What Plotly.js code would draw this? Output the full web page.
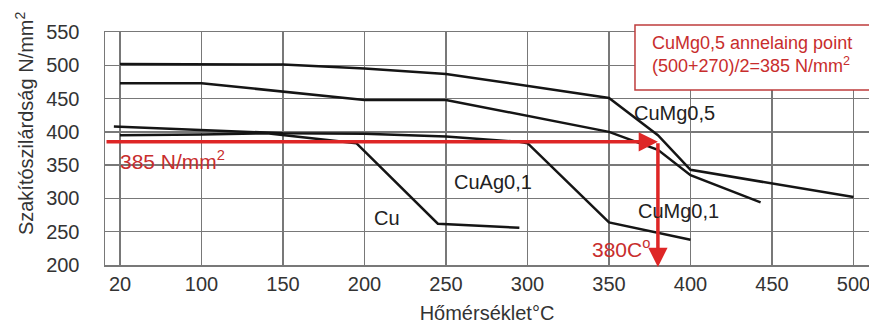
<!DOCTYPE html>
<html>
<head>
<meta charset="utf-8">
<script src="https://cdn.plot.ly/plotly-3.0.1.min.js"></script>
<style>
  html, body { margin: 0; padding: 0; background: #fff; }
  #chart { width: 869px; height: 324px; }
</style>
</head>
<body>
<div id="chart"></div>
<script>
// ---- Data (temperature °C, tensile strength N/mm²) ----
const tempTicks = [20, 100, 150, 200, 250, 300, 350, 400, 450, 500];
const strengthTicks = [200, 250, 300, 350, 400, 450, 500, 550];

const cuMg05Temp = [20, 100, 150, 200, 250, 350, 380, 400, 500];
const cuMg05Str  = [502, 502, 501, 495, 487, 451, 395, 343, 302];

const cuMg05bTemp = [20, 100, 200, 250, 350, 380, 400, 443];
const cuMg05bStr  = [473, 473, 448, 448, 400, 373, 335, 294];

const cuMg01Temp = [14, 100, 150, 200, 250, 295, 300, 350, 400];
const cuMg01Str  = [408, 403, 398, 397, 393, 385, 383, 264, 238];

const cuTemp = [20, 100, 140, 195, 245, 295];
const cuStr  = [395, 396, 398, 383, 262, 256];

const annealStrength = 385;   // (500+270)/2
const annealTemp = 380;

// The original temperature axis is broken: 20→100 spans the same width as 100→150.
function tPos(t) { return t <= 100 ? (t - 20) / 80 : 1 + (t - 100) / 50; }

const xLeft = -0.184, xRight = 9.19;
const FONT = '"Liberation Sans", Arial, sans-serif';
const RED = 'rgb(222,38,38)';
const RED_TXT = 'rgb(200,45,45)';
const GRID = '#787878';

function curve(T, S, name) {
  return {
    type: 'scatter', mode: 'lines', name: name,
    x: T.map(tPos), y: S,
    line: { color: '#151515', width: 2.5 },
    hoverinfo: 'skip'
  };
}

const traces = [
  curve(cuMg05Temp, cuMg05Str, 'CuMg0,5'),
  curve(cuMg05bTemp, cuMg05bStr, 'CuMg0,5 b'),
  curve(cuMg01Temp, cuMg01Str, 'CuMg0,1'),
  curve(cuTemp, cuStr, 'Cu')
];

const layout = {
  width: 869, height: 324,
  margin: { l: 105, r: 0, t: 32, b: 59 },
  paper_bgcolor: '#fff', plot_bgcolor: '#fff',
  showlegend: false,
  font: { family: FONT, size: 20, color: '#333' },
  xaxis: {
    range: [xLeft, xRight],
    tickmode: 'array',
    tickvals: tempTicks.map(tPos),
    ticktext: tempTicks.map(String),
    showgrid: true, gridcolor: GRID, gridwidth: 1.5,
    zeroline: false,
    showline: true, linecolor: GRID, linewidth: 1.5, mirror: true,
    ticks: '', ticklabelstandoff: 0, ticklabeloverflow: 'allow',
    tickfont: { family: FONT, size: 20, color: '#333' },
    title: { text: 'Hőmérséklet°C', font: { family: FONT, size: 20, color: '#333' }, standoff: 16 }
  },
  yaxis: {
    range: [200, 550],
    tickmode: 'array',
    tickvals: strengthTicks,
    ticktext: strengthTicks.map(String),
    showgrid: true, gridcolor: GRID, gridwidth: 1.5,
    zeroline: false,
    showline: true, linecolor: GRID, linewidth: 1.5,
    ticks: '', ticklabelstandoff: 20, ticklabeloverflow: 'allow',
    tickfont: { family: FONT, size: 20, color: '#333' }
  },
  shapes: [
    { type: 'rect', xref: 'paper', yref: 'paper',
      x0: 0.6937, x1: 1.03, y0: 0.751, y1: 1.03,
      fillcolor: '#fff', line: { color: 'rgb(190,60,60)', width: 1.5 }, layer: 'above' }
  ],
  annotations: [
    { xref: 'paper', yref: 'paper', x: -0.106, y: 0.609, xanchor: 'center', yanchor: 'middle',
      textangle: -90, showarrow: false,
      text: 'Szakítószilárdság N/mm<sup>2</sup>',
      font: { family: FONT, size: 20, color: '#333' } },
    { xref: 'paper', yref: 'paper', x: 0.714, y: 0.9034, xanchor: 'left', yanchor: 'middle',
      align: 'left', showarrow: false,
      text: 'CuMg0,5 annelaing point<br>(500+270)/2=385 N/mm<sup>2</sup>',
      font: { family: FONT, size: 18, color: RED_TXT } },
    // red arrows
    { xref: 'x', yref: 'y', axref: 'x', ayref: 'y',
      x: tPos(annealTemp), y: annealStrength, ax: xLeft, ay: annealStrength,
      text: '', showarrow: true, arrowhead: 2, arrowsize: 1.1, arrowwidth: 3.5,
      arrowcolor: RED, standoff: 0, startstandoff: 0 },
    { xref: 'x', yref: 'y', axref: 'x', ayref: 'y',
      x: tPos(annealTemp), y: 197, ax: tPos(annealTemp), ay: annealStrength,
      text: '', showarrow: true, arrowhead: 2, arrowsize: 1.1, arrowwidth: 3.5,
      arrowcolor: RED, standoff: 0, startstandoff: 0 },
    { xref: 'x', yref: 'y', x: -0.025, y: 358, xanchor: 'left', yanchor: 'middle', showarrow: false,
      text: annealStrength + ' N/mm<sup>2</sup>', font: { family: FONT, size: 21, color: RED_TXT } },
    { xref: 'x', yref: 'y', x: 6.147, y: 226, xanchor: 'center', yanchor: 'middle', showarrow: false,
      text: annealTemp + 'C<sup>o</sup>', font: { family: FONT, size: 21, color: RED_TXT } },
    // curve labels
    { xref: 'x', yref: 'y', x: 6.80, y: 428, showarrow: false, text: 'CuMg0,5',
      font: { family: FONT, size: 20, color: '#222' } },
    { xref: 'x', yref: 'y', x: 4.577, y: 325, showarrow: false, text: 'CuAg0,1',
      font: { family: FONT, size: 20, color: '#222' } },
    { xref: 'x', yref: 'y', x: 3.276, y: 271, showarrow: false, text: 'Cu',
      font: { family: FONT, size: 20, color: '#222' } },
    { xref: 'x', yref: 'y', x: 6.847, y: 281, showarrow: false, text: 'CuMg0,1',
      font: { family: FONT, size: 20, color: '#222' } }
  ]
};

Plotly.newPlot('chart', traces, layout, { staticPlot: true, displayModeBar: false });
</script>
</body>
</html>
